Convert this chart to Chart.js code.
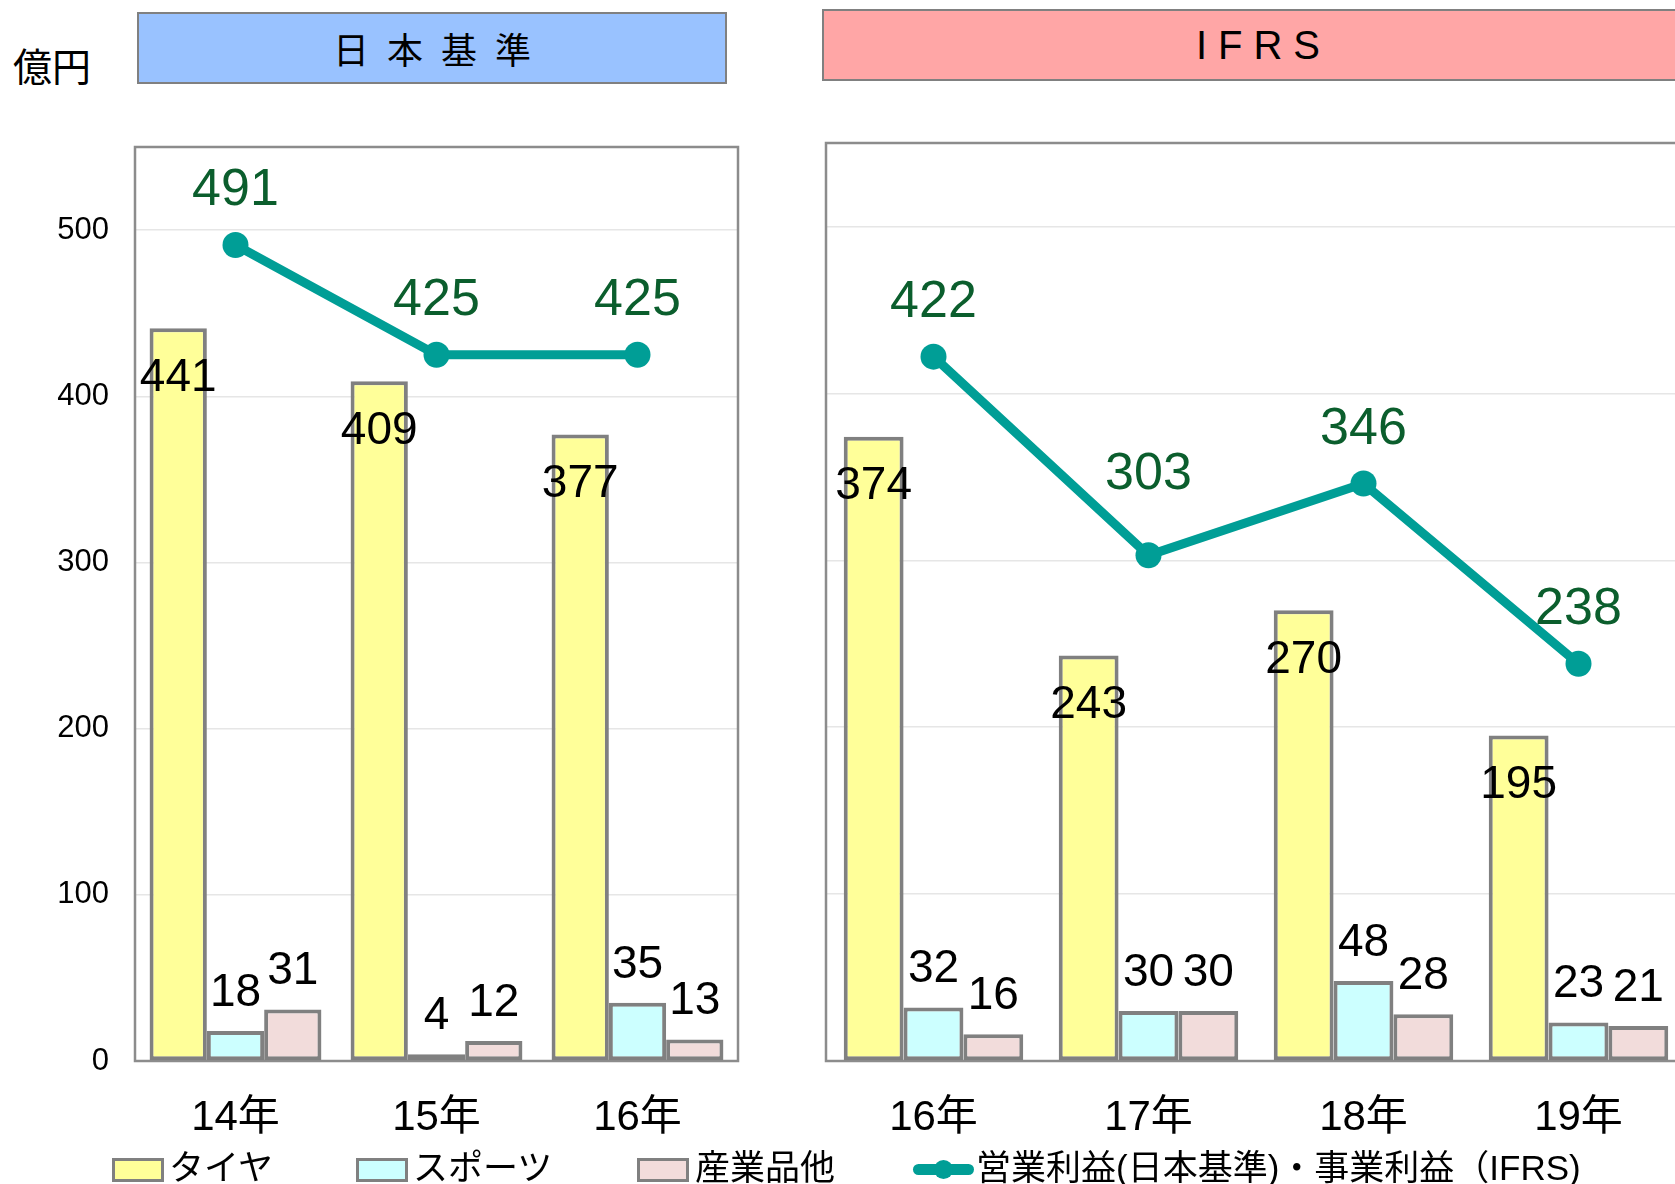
<!DOCTYPE html>
<html><head><meta charset="utf-8">
<script src="https://cdn.jsdelivr.net/npm/chart.js@4.4.0/dist/chart.umd.min.js"></script>
<style>
html,body{margin:0;padding:0;background:#fff;}
body{width:1675px;height:1184px;overflow:hidden;position:relative;font-family:"Liberation Sans","Noto Sans CJK JP",sans-serif;color:#000;}
.abs{position:absolute;}
canvas{position:absolute;top:0;}
.hdr{position:absolute;box-sizing:border-box;border:2.5px solid #808080;display:flex;align-items:center;justify-content:center;}
.lbox{position:absolute;box-sizing:border-box;width:52px;height:24px;border:3px solid #808080;top:1158px;}
.ltxt{position:absolute;top:1150px;font-size:35px;line-height:35px;white-space:nowrap;font-family:"Liberation Sans","Noto Sans CJK JP",sans-serif;}
</style></head><body>

<div class="abs" id="unit" style="left:13px;top:45px;font-size:39px;line-height:39px;font-family:'Noto Sans CJK JP',sans-serif;">億円</div>
<div class="hdr" style="left:137px;top:12px;width:590px;height:72px;background:#99C2FF;">
  <span id="hdrJ" style="font-family:'Noto Sans CJK JP',sans-serif;font-size:36px;letter-spacing:18px;padding-left:18px;line-height:1;"></span>
</div>
<div class="hdr" style="left:822px;top:9px;width:872px;height:72px;background:#FFA6A6;">
  <span id="hdrI" style="font-family:'Liberation Sans',sans-serif;font-size:40px;letter-spacing:11px;padding-left:11px;line-height:1;"></span>
</div>

<canvas id="cJ" width="760" height="1184" style="left:0px;width:760px;height:1184px;"></canvas>
<canvas id="cI" width="866" height="1184" style="left:822px;width:866px;height:1184px;"></canvas>

<div class="lbox" style="left:112px;background:#FFFF99;"></div>
<div class="ltxt" id="lg0" style="left:169px;"></div>
<div class="lbox" style="left:356px;background:#CCFFFF;"></div>
<div class="ltxt" id="lg1" style="left:413px;"></div>
<div class="lbox" style="left:637px;background:#F2DCDB;"></div>
<div class="ltxt" id="lg2" style="left:695px;"></div>
<div class="abs" style="left:913px;top:1164px;width:61px;height:11px;border-radius:6px;background:#009E96;"></div>
<div class="abs" style="left:934px;top:1160px;width:19px;height:19px;border-radius:50%;background:#009E96;"></div>
<div class="ltxt" id="lg3" style="left:976px;"></div>

<script>
// ---- data ----
const headerJ = '日本基準';
const headerI = 'IFRS';
const unitLabel = '億円';
const categoriesJ = ['14年', '15年', '16年'];
const categoriesI = ['16年', '17年', '18年', '19年'];
const tireJ = [441, 409, 377];
const sportsJ = [18, 4, 35];
const industrialJ = [31, 12, 13];
const profitJ = [491, 425, 425];
const tireI = [374, 243, 270, 195];
const sportsI = [32, 30, 48, 23];
const industrialI = [16, 30, 28, 21];
const profitI = [422, 303, 346, 238];
const yTicks = [0, 100, 200, 300, 400, 500];
const seriesNames = ['タイヤ', 'スポーツ', '産業品他', '営業利益(日本基準)・事業利益（IFRS)'];

document.getElementById('hdrJ').textContent = headerJ;
document.getElementById('hdrI').textContent = headerI;
document.getElementById('unit').textContent = unitLabel;
seriesNames.forEach((n, i) => document.getElementById('lg' + i).textContent = n);

const FONT = '"Liberation Sans", "Noto Sans CJK JP", sans-serif';

const boxPlugin = {
  id: 'plotBox',
  beforeDatasetsDraw(chart) {
    const { left, top, right, bottom } = chart.chartArea;
    const ctx = chart.ctx;
    ctx.save();
    ctx.strokeStyle = '#8C8C8C';
    ctx.lineWidth = 2.5;
    ctx.strokeRect(left, top, right - left, bottom - top);
    ctx.restore();
  }
};

const labelPlugin = {
  id: 'valueLabels',
  afterDatasetsDraw(chart) {
    const ctx = chart.ctx;
    chart.data.datasets.forEach((ds, i) => {
      const meta = chart.getDatasetMeta(i);
      meta.data.forEach((el, j) => {
        const v = ds.data[j];
        ctx.save();
        ctx.textAlign = 'center';
        ctx.textBaseline = 'middle';
        if (ds.type === 'line') {
          ctx.font = '52px ' + FONT;
          ctx.fillStyle = '#0B5E2D';
          const d = ds.data;
          const localMin = j > 0 && j < d.length - 1 && v < d[j - 1] && v < d[j + 1];
          ctx.fillText(String(v), el.x, el.y - (localMin ? 81 : 54));
        } else {
          ctx.font = '46px ' + FONT;
          ctx.fillStyle = '#000';
          const inside = (el.base - el.y) > 150;
          ctx.fillText(String(v), el.x, inside ? el.y + 50 : el.y - 38);
        }
        ctx.restore();
      });
    });
  }
};

function makeChart(id, cats, tire, sports, ind, profit, cfg) {
  const barCommon = {
    type: 'bar', borderColor: '#808080', borderWidth: 4, borderSkipped: false,
    categoryPercentage: cfg.catPct, barPercentage: 1.0, order: 1
  };
  return new Chart(document.getElementById(id), {
    data: {
      labels: cats,
      datasets: [
        { type: 'line', label: seriesNames[3], data: profit, borderColor: '#009E96', backgroundColor: '#009E96',
          borderWidth: 9, pointRadius: 13, pointBackgroundColor: '#009E96', pointBorderWidth: 0, order: 0, tension: 0 },
        Object.assign({}, barCommon, { label: seriesNames[0], data: tire, backgroundColor: '#FFFF99' }),
        Object.assign({}, barCommon, { label: seriesNames[1], data: sports, backgroundColor: '#CCFFFF' }),
        Object.assign({}, barCommon, { label: seriesNames[2], data: ind, backgroundColor: '#F2DCDB' })
      ]
    },
    options: {
      responsive: false, animation: false, devicePixelRatio: 1,
      layout: { padding: cfg.padding, autoPadding: false },
      plugins: { legend: { display: false }, tooltip: { enabled: false } },
      scales: {
        x: {
          type: 'category', offset: true,
          grid: { display: false }, border: { display: false },
          ticks: { font: { size: 42, family: FONT }, color: '#000', padding: 24, maxRotation: 0, autoSkip: false },
          afterFit: s => { s.height = 123; }
        },
        y: {
          min: 0, max: 550,
          grid: { color: '#E6E6E6', lineWidth: 1.5, drawTicks: false },
          border: { display: false },
          ticks: { display: cfg.showY, font: { size: 31, family: FONT }, color: '#000', padding: 26, includeBounds: false },
          afterBuildTicks: s => { s.ticks = yTicks.map(v => ({ value: v })); },
          afterFit: s => { s.width = cfg.yWidth; }
        }
      }
    },
    plugins: [boxPlugin, labelPlugin]
  });
}

makeChart('cJ', categoriesJ, tireJ, sportsJ, industrialJ, profitJ,
  { padding: { top: 147, right: 22, left: 0, bottom: 0 }, showY: true, yWidth: 135, catPct: 0.855 });
makeChart('cI', categoriesI, tireI, sportsI, industrialI, profitI,
  { padding: { top: 143, right: 2, left: 4, bottom: 0 }, showY: false, yWidth: 0, catPct: 0.835 });
</script>
</body></html>
